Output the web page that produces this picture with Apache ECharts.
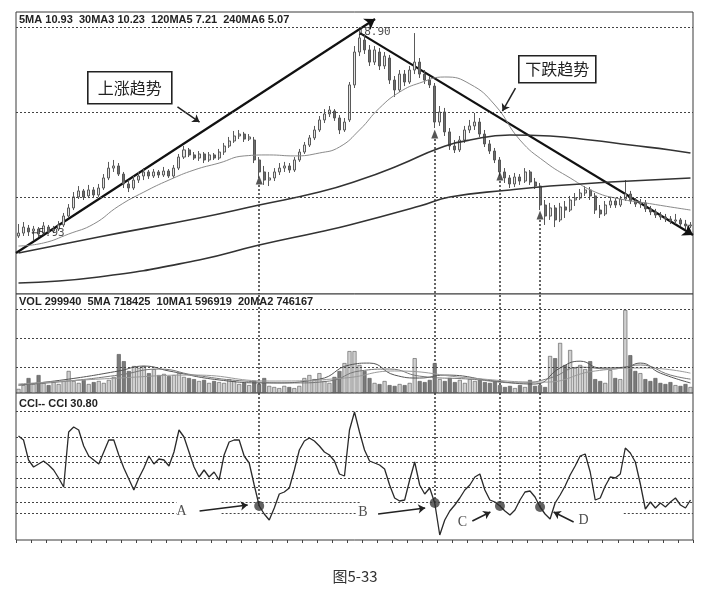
<!DOCTYPE html>
<html><head><meta charset="utf-8">
<script src="https://cdn.jsdelivr.net/npm/echarts@6/dist/echarts.min.js"></script>
<style>html,body{margin:0;padding:0;background:#fff}#c{width:710px;height:596px}</style>
</head><body><div id="c"></div>
<script>
// ---- price candles: [open, close, low, high] ----
const candles = [
[6.18,6.36,6.06,6.92],[6.36,6.73,6.18,7.04],[6.67,6.43,6.18,6.86],[6.49,6.61,5.93,6.80],[6.61,6.30,6.12,6.73],
[6.36,6.80,6.24,7.04],[6.73,6.43,6.30,6.86],[6.49,6.61,6.36,6.80],[6.61,6.86,6.49,7.10],[6.86,7.41,6.73,7.60],
[7.41,7.91,7.29,8.15],[7.91,8.59,7.78,8.89],[8.59,8.96,8.46,9.26],[8.96,8.59,8.40,9.08],[8.65,9.02,8.52,9.33],
[9.02,8.71,8.52,9.20],[8.71,9.14,8.59,9.39],[9.14,9.76,9.02,10.00],[9.76,10.37,9.63,10.75],[10.37,10.50,10.13,10.87],
[10.50,10.00,9.88,10.68],[10.00,9.39,9.14,10.13],[9.39,9.14,8.89,9.63],[9.14,9.63,9.02,9.88],[9.63,9.88,9.45,10.13],
[9.88,10.13,9.63,10.37],[10.13,9.88,9.70,10.25],[9.88,10.13,9.76,10.31],[10.13,9.94,9.76,10.25],[9.94,10.19,9.82,10.44],
[10.19,9.88,9.76,10.31],[9.88,10.37,9.76,10.56],[10.37,11.05,10.25,11.24],[11.05,11.49,10.93,11.73],[11.49,11.18,11.05,11.61],
[11.18,10.99,10.87,11.36],[10.99,11.24,10.81,11.42],[11.24,10.87,10.68,11.36],[10.87,11.18,10.75,11.36],[11.18,10.99,10.87,11.30],
[10.99,11.36,10.87,11.55],[11.36,11.73,11.18,11.92],[11.73,12.04,11.61,12.29],[12.04,12.35,11.92,12.66],[12.35,12.47,12.16,12.72],
[12.47,12.16,11.98,12.60],[12.16,12.29,12.04,12.47],[12.10,10.87,10.68,12.29],[10.87,10.13,9.76,11.05],[10.13,9.63,9.33,10.50],
[9.63,9.76,9.26,10.13],[9.76,10.13,9.57,10.37],[10.13,10.37,9.94,10.68],[10.37,10.50,10.13,10.75],[10.50,10.25,10.07,10.68],
[10.25,10.87,10.13,11.05],[10.87,11.36,10.75,11.55],[11.36,11.79,11.24,11.98],[11.79,12.23,11.67,12.41],[12.23,12.72,12.10,12.97],
[12.72,13.34,12.60,13.58],[13.34,13.71,13.15,14.01],[13.71,13.95,13.52,14.20],[13.89,13.46,13.28,14.01],[13.46,12.72,12.47,13.64],
[12.72,13.21,12.60,13.46],[13.34,15.50,13.21,15.68],[15.50,17.53,15.31,17.90],[17.53,18.40,17.28,18.90],[18.27,17.66,17.41,18.64],
[17.66,16.91,16.67,17.96],[16.91,17.66,16.73,17.90],[17.53,16.67,16.42,17.78],[16.67,17.28,16.48,17.53],[17.16,15.80,15.56,17.35],
[15.80,15.19,14.76,16.05],[15.19,16.17,15.06,16.42],[16.17,15.68,15.43,16.42],[15.68,16.42,15.56,16.67],[16.42,16.91,16.17,18.70],
[16.91,16.17,15.93,17.16],[16.17,15.80,15.56,16.42],[15.80,15.50,15.31,16.05],[15.43,13.21,12.84,15.62],[13.21,13.83,12.97,14.20],
[13.83,12.60,12.35,14.08],[12.60,11.73,11.49,12.84],[11.73,11.49,11.30,12.10],[11.49,12.10,11.36,12.35],[12.10,12.72,11.92,12.97],
[12.72,12.97,12.53,13.34],[12.97,13.21,12.72,13.77],[13.21,12.47,12.29,13.46],[12.47,11.86,11.67,12.72],[11.86,11.42,11.24,12.10],
[11.42,10.87,10.68,11.61],[10.87,10.13,9.88,11.05],[10.13,9.76,9.45,10.37],[9.76,9.39,9.14,9.94],[9.39,9.82,9.20,10.07],
[9.82,9.57,9.33,10.00],[9.57,10.13,9.45,10.37],[10.13,9.51,9.33,10.25],[9.51,9.26,9.08,9.76],[9.26,8.09,7.78,9.45],
[8.09,7.41,6.86,8.40],[7.41,7.91,7.17,8.22],[7.91,7.17,6.73,8.09],[7.17,7.97,7.04,8.22],[7.97,7.78,7.29,8.34],
[7.78,8.40,7.66,8.65],[8.40,8.52,8.03,8.83],[8.52,8.83,8.40,9.08],[8.83,9.02,8.65,9.26],[9.02,8.65,8.40,9.20],
[8.65,7.78,7.54,8.83],[7.78,7.54,7.29,8.09],[7.54,8.09,7.41,8.34],[8.09,8.34,7.91,8.59],[8.34,8.09,7.91,8.52],
[8.09,8.46,7.97,8.65],[8.46,8.77,8.34,9.63],[8.77,8.34,8.15,8.96],[8.34,8.15,7.97,8.52],[8.15,8.22,7.91,8.46],
[8.22,7.85,7.66,8.40],[7.85,7.66,7.47,8.03],[7.66,7.47,7.29,7.85],[7.47,7.35,7.17,7.66],[7.35,7.23,7.04,7.54],
[7.23,7.10,6.92,7.41],[7.10,7.17,6.92,7.54],[7.17,6.92,6.80,7.29],[6.92,6.80,6.61,7.17],[6.80,6.86,6.67,7.04]
];
// ---- moving averages: [bar index, price] ----
const ma30 = [[0,5.56],[5,5.75],[10,6.30],[15,6.92],[20,8.03],[25,8.89],[30,9.63],[35,10.25],[40,10.68],[45,11.12],[50,11.18],[55,11.12],[60,11.30],[64,11.67],[68,12.72],[72,14.08],[76,15.06],[80,15.62],[85,15.99],[90,15.56],[95,14.26],[100,12.10],[105,10.75],[110,9.76],[115,8.89],[120,8.46],[125,8.22],[130,7.97],[134,7.78]];
const ma120 = [[0,5.13],[16,6.12],[36,7.29],[48,8.09],[60,8.89],[68,9.63],[76,10.56],[84,11.61],[90,12.10],[98,12.41],[106,12.35],[114,12.10],[122,11.79],[130,11.49],[134,11.30]];
const ma240 = [[0,3.28],[16,3.65],[36,4.70],[48,5.62],[60,6.43],[66,6.86],[80,8.03],[86,8.59],[98,9.02],[106,9.26],[118,9.51],[134,9.76]];
// ---- volume (10k shares) ----
const volumes = [15,29,55,33,66,37,29,40,33,44, 81,44,37,48,33,40,44,37,48,59, 143,117,81,99,92,99,73,88,66,70,
 62,66,73,59,55,51,44,48,37,44, 40,37,51,44,33,37,29,44,33,55, 26,22,18,26,22,18,26,55,66,51,
 73,44,37,59,81,110,154,154,103,81, 55,37,33,44,29,26,33,29,37,128, 44,40,48,110,51,44,55,40,48,37,
 51,44,48,40,37,44,29,22,26,18, 29,22,48,26,29,22,136,128,184,103, 158,92,103,88,117,51,44,37,84,55,
 51,305,139,81,73,51,44,55,37,33, 40,29,26,33,22];
const volMa5 = [[0,29],[10,51],[20,81],[25,99],[30,81],[40,48],[50,37],[60,51],[66,103],[70,110],[75,66],[80,55],[85,66],[95,44],[103,33],[108,92],[112,117],[116,92],[121,95],[124,110],[128,73],[134,37]];
const volMa10 = [[0,29],[10,44],[20,66],[28,88],[35,66],[45,44],[55,37],[62,44],[68,81],[74,88],[80,62],[90,51],[100,37],[106,55],[112,95],[118,88],[124,103],[130,66],[134,51]];
const volMa20 = [[0,33],[20,55],[35,66],[50,44],[65,55],[75,81],[90,55],[105,40],[115,81],[125,92],[134,73]];
// ---- CCI ----
const cci = [216,200,120,92,104,116,100,80,48,12, 232,252,240,176,136,120,104,152,200,200,
 140,88,44,0,48,88,136,104,124,120, 96,152,240,212,152,92,52,80,52,72,
 40,140,192,200,200,136,108,20,-64,-96, -120,-72,-16,-8,8,80,160,196,208,196,
 176,152,140,116,64,56,240,312,232,160, 116,108,100,84,20,-32,-44,-40,40,112,
 20,-16,8,-52,-180,-120,-84,-60,-32,0, 20,52,64,0,-40,-48,-64,-84,-100,-80,
 -40,-8,-4,-28,-68,-96,-116,-52,-20,16, 60,96,136,144,72,-40,-32,16,52,48,
 64,168,148,112,24,-76,-48,-72,-52,-68, -48,-32,-60,-72,-40];
// ---- reference lines / annotations (data units) ----
const priceGridLines = [19.07, 13.83, 8.59];
const volGridLines = [95, 202, 308];
const cciGridFull = [316, 212, 136, 112, 48, 12];
const cciGridSegments = [[-48, [[-0.5,31.5],[40.5,68.1],[74.1,134.5]]], [-92, [[-0.5,31.5],[40.5,67.5],[120.7,134.5]]]];
const signalIdx = [48, 83, 96, 104];
const signalPrice = [9.63, 12.47, 9.88, 7.47];
const signalLineTop = [9.33, 12.16, 9.57, 7.17];
const signalNames = ['A','B','C','D'];
const signalLabelPos = [[32.5,-84],[68.7,-88],[88.5,-128],[112.7,-120]];
const signalArrows = [[[36.1,-84],[45.7,-60]],[[71.7,-96],[81.1,-72]],[[90.5,-124],[94.1,-88]],[[110.7,-128],[106.7,-88]]];
const upTrend = [[-0.5,5.13],[71.1,19.57]];
const downTrend = [[68.1,18.70],[134.5,6.24]];
const trendArrows = [[[31.7,14.14],[36.1,13.21]],[[99.1,15.31],[96.5,13.89]]];
const highPoint = [68, 18.90], lowPoint = [3, 5.93];

const categories = candles.map((_, i) => String(i));
const N = candles.length;
const chart = echarts.init(document.getElementById('c'), null, {renderer:'canvas'});
const gridBase = {left:16, right:17, show:true, borderColor:'#3a3a3a', borderWidth:1, backgroundColor:'#fff'};
const dot = {type:[2,2], color:'#444', width:1, opacity:1};
const hid = (gi, extra) => Object.assign({gridIndex:gi, show:false}, extra);
const valX = gi => hid(gi, {type:'value', min:-0.5, max:N-0.5});

const sigLineStyle = {type:[2,2], color:'#333', width:1.5, opacity:1};

const option = {
  animation:false,
  backgroundColor:'#fff',
  grid:[Object.assign({top:12, height:282}, gridBase), Object.assign({top:294, height:99}, gridBase), Object.assign({top:393, height:147}, gridBase)],
  xAxis:[
    hid(0,{type:'category', data:categories}), valX(0),
    hid(1,{type:'category', data:categories}), valX(1),
    {gridIndex:2, type:'category', data:categories, position:'bottom', axisLine:{show:false, onZero:false}, axisLabel:{show:false}, splitLine:{show:false},
     axisTick:{show:true, interval:2, length:3, lineStyle:{color:'#444'}}}, valX(2)
  ],
  yAxis:[
    hid(0,{type:'value', min:2.6, max:20}),
    hid(1,{type:'value', min:0, max:364}),
    hid(2,{type:'value', min:-200, max:388})
  ],
  series:[
    {type:'candlestick', xAxisIndex:0, yAxisIndex:0, data:candles, barMaxWidth:3,
     itemStyle:{color:'#e2e2e2', color0:'#6e6e6e', borderColor:'#5a5a5a', borderColor0:'#555', borderWidth:1},
     markLine:{silent:true, symbol:'none', label:{show:false}, lineStyle:dot, data:priceGridLines.map(v=>({yAxis:v}))}},
    {type:'line', xAxisIndex:1, yAxisIndex:0, data:ma30, smooth:true, showSymbol:false, lineStyle:{color:'#8a8a8a', width:1}},
    {type:'line', xAxisIndex:1, yAxisIndex:0, data:ma120, smooth:true, showSymbol:false, lineStyle:{color:'#333', width:1.6}},
    {type:'line', xAxisIndex:1, yAxisIndex:0, data:ma240, smooth:true, showSymbol:false, lineStyle:{color:'#333', width:1.6}},
    {type:'lines', coordinateSystem:'cartesian2d', xAxisIndex:1, yAxisIndex:0, symbol:['none','arrow'], symbolSize:10,
     lineStyle:{color:'#111', width:2.2, opacity:1}, data:[{coords:upTrend},{coords:downTrend}]},
    {type:'lines', coordinateSystem:'cartesian2d', xAxisIndex:1, yAxisIndex:0, symbol:['none','arrow'], symbolSize:7,
     lineStyle:{color:'#222', width:1.5, opacity:1}, data:trendArrows.map(c=>({coords:c}))},
    {type:'lines', coordinateSystem:'cartesian2d', xAxisIndex:1, yAxisIndex:0, lineStyle:sigLineStyle,
     data:signalIdx.map((x,k)=>({coords:[[x,signalLineTop[k]],[x,2.6]]}))},
    {type:'scatter', xAxisIndex:1, yAxisIndex:0, symbol:'triangle', symbolSize:[7,9], itemStyle:{color:'#2a2a2a'},
     data:signalIdx.map((x,k)=>[x,signalPrice[k]])},
    {type:'scatter', xAxisIndex:1, yAxisIndex:0, symbolSize:0, data:[
      {value:highPoint, label:{show:true, position:'right', distance:-2, offset:[0,2], formatter:'18.90', fontFamily:'DejaVu Sans Mono', fontSize:11, color:'#222'}},
      {value:lowPoint, label:{show:true, position:'right', distance:0, offset:[-2,-7], formatter:'\u21905.93', fontFamily:'DejaVu Sans Mono', fontSize:11, color:'#222'}}
    ]},
    // volume
    {type:'bar', xAxisIndex:2, yAxisIndex:1, barWidth:4,
     data:volumes.map((v,i)=>({value:v, itemStyle:{color: candles[i][1]>=candles[i][0] ? '#d0d0d0' : '#7a7a7a', borderColor:'#555', borderWidth:0.6}})),
     markLine:{silent:true, symbol:'none', label:{show:false}, lineStyle:dot, data:volGridLines.map(v=>({yAxis:v}))}},
    {type:'line', xAxisIndex:3, yAxisIndex:1, data:volMa5, smooth:true, showSymbol:false, lineStyle:{color:'#555', width:1}},
    {type:'line', xAxisIndex:3, yAxisIndex:1, data:volMa10, smooth:true, showSymbol:false, lineStyle:{color:'#777', width:1}},
    {type:'line', xAxisIndex:3, yAxisIndex:1, data:volMa20, smooth:true, showSymbol:false, lineStyle:{color:'#999', width:1}},
    {type:'lines', coordinateSystem:'cartesian2d', xAxisIndex:3, yAxisIndex:1, lineStyle:sigLineStyle,
     data:signalIdx.map(x=>({coords:[[x,0],[x,364]]}))},
    // CCI
    {type:'lines', coordinateSystem:'cartesian2d', xAxisIndex:5, yAxisIndex:2, lineStyle:dot,
     data:cciGridFull.map(v=>({coords:[[-0.5,v],[N-0.5,v]]})).concat(
       cciGridSegments.flatMap(([v,segs])=>segs.map(s=>({coords:[[s[0],v],[s[1],v]]}))))},
    {type:'line', xAxisIndex:4, yAxisIndex:2, data:cci, showSymbol:false, lineStyle:{color:'#2a2a2a', width:1.3}},
    {type:'lines', coordinateSystem:'cartesian2d', xAxisIndex:5, yAxisIndex:2, lineStyle:sigLineStyle,
     data:signalIdx.map(x=>({coords:[[x,388],[x,cci[x]]]}))},
    {type:'scatter', xAxisIndex:5, yAxisIndex:2, symbolSize:10, itemStyle:{color:'#3c3c3c'},
     data:signalIdx.map(x=>[x,cci[x]])},
    {type:'lines', coordinateSystem:'cartesian2d', xAxisIndex:5, yAxisIndex:2, symbol:['none','arrow'], symbolSize:7,
     lineStyle:{color:'#222', width:1.5, opacity:1}, data:signalArrows.map(c=>({coords:c}))},
    {type:'scatter', xAxisIndex:5, yAxisIndex:2, symbolSize:0,
     label:{show:true, position:'inside', formatter:p=>signalNames[p.dataIndex], fontFamily:'Liberation Serif', fontSize:14, color:'#222'},
     data:signalLabelPos}
  ],
  graphic:[
    {type:'text', left:19, top:14, style:{text:'5MA 10.93  30MA3 10.23  120MA5 7.21  240MA6 5.07', font:'bold 11px "Liberation Sans"', fill:'#222'}},
    {type:'text', left:19, top:296, style:{text:'VOL 299940  5MA 718425  10MA1 596919  20MA2 746167', font:'bold 11px "Liberation Sans"', fill:'#222'}},
    {type:'text', left:19, top:398, style:{text:'CCI-- CCI 30.80', font:'bold 11px "Liberation Sans"', fill:'#222'}},
    {type:'group', left:87, top:71, children:[
      {type:'rect', shape:{x:0,y:0,width:84,height:32}, style:{fill:'#fff', stroke:'#222', lineWidth:1.6}},
      {type:'text', x:42, y:16, style:{text:'上涨趋势', font:'16px "Noto Sans CJK SC"', fill:'#222', align:'center', verticalAlign:'middle'}}
    ]},
    {type:'group', left:518, top:55, children:[
      {type:'rect', shape:{x:0,y:0,width:77,height:27}, style:{fill:'#fff', stroke:'#222', lineWidth:1.6}},
      {type:'text', x:38.5, y:13.5, style:{text:'下跌趋势', font:'16px "Noto Sans CJK SC"', fill:'#222', align:'center', verticalAlign:'middle'}}
    ]},
    {type:'text', left:'center', top:569, style:{text:'图5-33', font:'15px "Noto Sans CJK SC"', fill:'#333'}}
  ]
};
chart.setOption(option);
</script>
</body></html>
